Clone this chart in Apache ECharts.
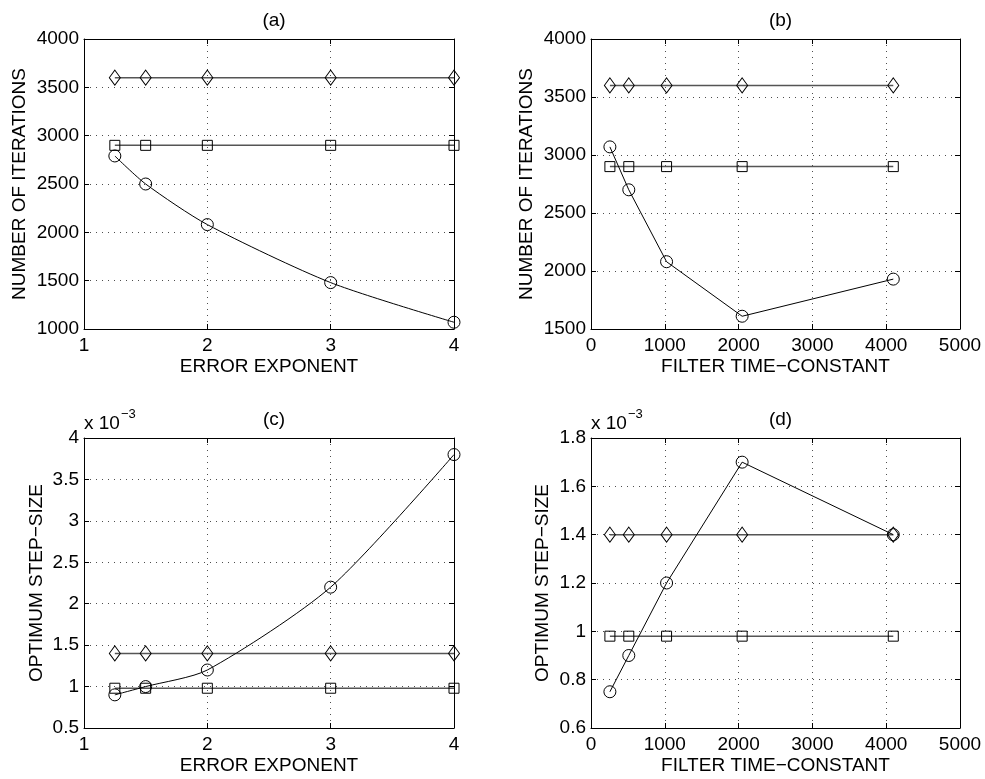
<!DOCTYPE html>
<html>
<head>
<meta charset="utf-8">
<title>Iterations and optimum step-size</title>
<script src="https://cdn.jsdelivr.net/npm/echarts@6/dist/echarts.min.js"></script>
<style>
  html, body { margin: 0; padding: 0; background: #fff; }
  #chart { width: 985px; height: 779px; }
</style>
</head>
<body>
<div id="chart"></div>
<script>
// Error-exponent sweep (panels a, c)
const exponentX = [1.25, 1.5, 2, 3, 4];
// Filter time-constant sweep (panels b, d)
const timeConstX = [256, 512, 1024, 2048, 4096];

// Number of iterations
const itersExpDiamond = [3600, 3600, 3600, 3600, 3600];
const itersExpSquare  = [2900, 2900, 2900, 2900, 2900];
const itersExpCircle  = [2790, 2500, 2080, 1480, 1070];

const itersTauDiamond = [3600, 3600, 3600, 3600, 3600];
const itersTauSquare  = [2900, 2900, 2900, 2900, 2900];
const itersTauCircle  = [3070, 2700, 2080, 1610, 1930];

// Optimum step-size, in units of 1e-3
const stepExpDiamond = [1.4, 1.4, 1.4, 1.4, 1.4];
const stepExpSquare  = [0.98, 0.98, 0.98, 0.98, 0.98];
const stepExpCircle  = [0.9, 1.0, 1.2, 2.2, 3.8];

const stepTauDiamond = [1.4, 1.4, 1.4, 1.4, 1.4];
const stepTauSquare  = [0.98, 0.98, 0.98, 0.98, 0.98];
const stepTauCircle  = [0.75, 0.9, 1.2, 1.7, 1.4];

const panelTitles = ['(a)', '(b)', '(c)', '(d)'];
const xNames = ['ERROR EXPONENT', 'FILTER TIME\u2212CONSTANT', 'ERROR EXPONENT', 'FILTER TIME\u2212CONSTANT'];
const yNames = ['NUMBER OF ITERATIONS', 'NUMBER OF ITERATIONS', 'OPTIMUM STEP\u2212SIZE', 'OPTIMUM STEP\u2212SIZE'];

const FONT = 'Liberation Sans, Arial, Helvetica, sans-serif';
const FS = 19;
const INK = '#000';

// Plot boxes
const boxes = [
  { left: 84,  top: 39,  width: 370, height: 290, yGap: 55 },
  { left: 591, top: 39,  width: 369, height: 290, yGap: 55 },
  { left: 84,  top: 438, width: 370, height: 290, yGap: 38 },
  { left: 591, top: 438, width: 369, height: 290, yGap: 39 }
];

const xRanges = [
  { min: 1, max: 4, interval: 1 },
  { min: 0, max: 5000, interval: 1000 },
  { min: 1, max: 4, interval: 1 },
  { min: 0, max: 5000, interval: 1000 }
];
const yRanges = [
  { min: 1000, max: 4000, interval: 500 },
  { min: 1500, max: 4000, interval: 500 },
  { min: 0.5, max: 4, interval: 0.5 },
  { min: 0.6, max: 1.8, interval: 0.2 }
];

const panelData = [
  { x: exponentX, d: itersExpDiamond, s: itersExpSquare, c: itersExpCircle, smooth: 0.25 },
  { x: timeConstX, d: itersTauDiamond, s: itersTauSquare, c: itersTauCircle, smooth: false },
  { x: exponentX, d: stepExpDiamond, s: stepExpSquare, c: stepExpCircle, smooth: 0.25 },
  { x: timeConstX, d: stepTauDiamond, s: stepTauSquare, c: stepTauCircle, smooth: false }
];

function fmt(v) {
  return String(Math.round(v * 1000) / 1000);
}

const grid = [], xAxis = [], yAxis = [], series = [], title = [], graphic = [];

boxes.forEach((b, i) => {
  grid.push({ left: b.left, top: b.top, width: b.width, height: b.height, containLabel: false });

  const tickStyle = { show: true, inside: true, length: 5, lineStyle: { color: INK, width: 1 } };
  const gridLine = { show: true, lineStyle: { color: '#222', width: 1, type: [1, 5], opacity: 0.8 } };

  // bottom x axis
  xAxis.push({
    type: 'value', gridIndex: i, position: 'bottom',
    min: xRanges[i].min, max: xRanges[i].max, interval: xRanges[i].interval,
    name: xNames[i], nameLocation: 'middle', nameGap: 28,
    nameTextStyle: { fontFamily: FONT, fontSize: FS, color: INK },
    axisLine: { show: true, onZero: false, lineStyle: { color: INK, width: 1 } },
    axisTick: tickStyle,
    axisLabel: { fontFamily: FONT, fontSize: FS, color: INK, margin: 7, formatter: fmt },
    splitLine: gridLine
  });
  // top x axis (box edge with ticks)
  xAxis.push({
    type: 'value', gridIndex: i, position: 'top',
    min: xRanges[i].min, max: xRanges[i].max, interval: xRanges[i].interval,
    axisLine: { show: true, onZero: false, lineStyle: { color: INK, width: 1 } },
    axisTick: tickStyle, axisLabel: { show: false }, splitLine: { show: false }
  });
  // left y axis
  yAxis.push({
    type: 'value', gridIndex: i, position: 'left',
    min: yRanges[i].min, max: yRanges[i].max, interval: yRanges[i].interval,
    name: yNames[i], nameLocation: 'middle', nameGap: b.yGap,
    nameTextStyle: { fontFamily: FONT, fontSize: FS, color: INK },
    axisLine: { show: true, onZero: false, lineStyle: { color: INK, width: 1 } },
    axisTick: tickStyle,
    axisLabel: { fontFamily: FONT, fontSize: FS, color: INK, margin: 5, formatter: fmt },
    splitLine: gridLine
  });
  // right y axis (box edge with ticks)
  yAxis.push({
    type: 'value', gridIndex: i, position: 'right',
    min: yRanges[i].min, max: yRanges[i].max, interval: yRanges[i].interval,
    axisLine: { show: true, onZero: false, lineStyle: { color: INK, width: 1 } },
    axisTick: tickStyle, axisLabel: { show: false }, splitLine: { show: false }
  });

  title.push({
    text: panelTitles[i],
    left: b.left + b.width / 2, top: b.top - 33, textAlign: 'center',
    textStyle: { fontFamily: FONT, fontSize: FS, fontWeight: 'normal', color: INK }
  });

  const p = panelData[i];
  const xi = i * 2, yi = i * 2;
  const pairs = arr => p.x.map((x, k) => [x, arr[k]]);
  const hollow = { color: 'rgba(0,0,0,0)', borderColor: INK, borderWidth: 1 };

  series.push({
    name: 'diamond ' + panelTitles[i], type: 'line', xAxisIndex: xi, yAxisIndex: yi,
    data: pairs(p.d), symbol: 'diamond', symbolSize: [11, 15],
    lineStyle: { color: '#555', width: 1.5 }, itemStyle: hollow, z: 3,
    clip: false, animation: false
  });
  series.push({
    name: 'square ' + panelTitles[i], type: 'line', xAxisIndex: xi, yAxisIndex: yi,
    data: pairs(p.s), symbol: 'rect', symbolSize: 10,
    lineStyle: { color: '#555', width: 1.5 }, itemStyle: hollow, z: 3,
    clip: false, animation: false
  });
  series.push({
    name: 'circle ' + panelTitles[i], type: 'line', xAxisIndex: xi, yAxisIndex: yi,
    data: pairs(p.c), symbol: 'circle', symbolSize: 12, smooth: p.smooth,
    lineStyle: { color: INK, width: 1 }, itemStyle: hollow, z: 4,
    clip: false, animation: false
  });

  if (i >= 2) {
    graphic.push({
      type: 'text', left: b.left, top: b.top - 30,
      style: {
        text: '{m|x 10}{e|\u22123}',
        rich: {
          m: { fontFamily: FONT, fontSize: FS, fill: INK, verticalAlign: 'bottom' },
          e: { fontFamily: FONT, fontSize: 13, fill: INK, verticalAlign: 'top', padding: [0, 0, 12, 1] }
        }
      }
    });
  }
});

const chart = echarts.init(document.getElementById('chart'), null, { renderer: 'canvas' });
chart.setOption({
  backgroundColor: '#fff',
  animation: false,
  title, grid, xAxis, yAxis, series, graphic
});
</script>
</body>
</html>
